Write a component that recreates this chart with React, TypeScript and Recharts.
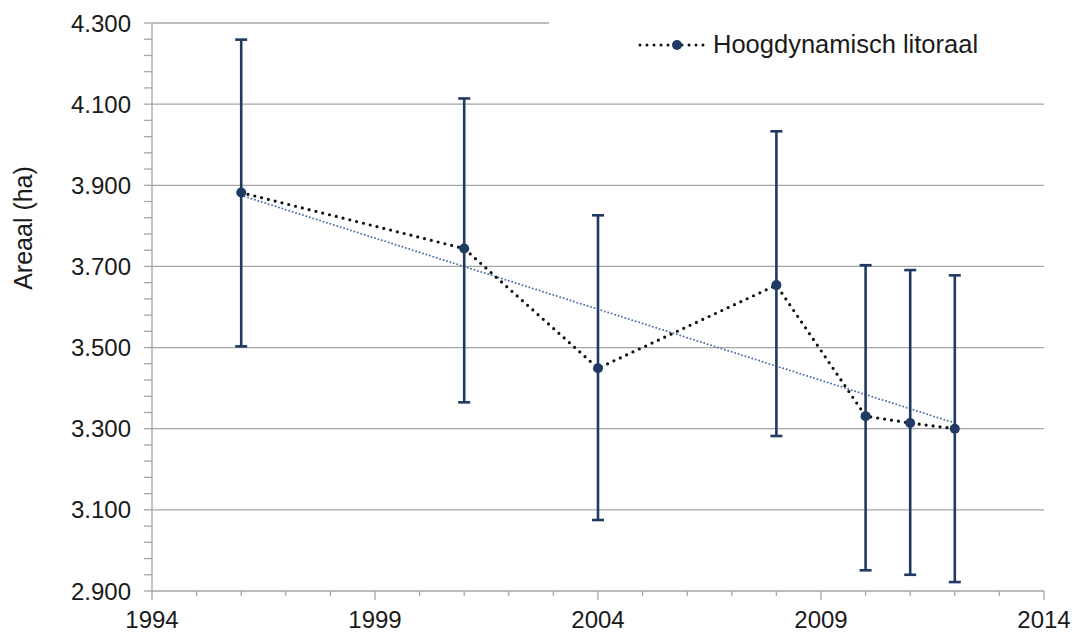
import React from 'react';
import { ComposedChart, Line, XAxis, YAxis, ErrorBar, ReferenceLine, Legend } from 'recharts';

// Data (area in hectares)
const years = [1996, 2001, 2004, 2008, 2010, 2011, 2012];
const areaal = [3882, 3744, 3449, 3654, 3331, 3314, 3300];
const upperBound = [4259, 4114, 3826, 4033, 3703, 3691, 3678];
const lowerBound = [3503, 3365, 3075, 3282, 2951, 2940, 2922];
// Linear trendline end points as seen in the picture
const trendYears = [1996, 2012];
const trendValues = [3875, 3314];

const xTicks = [1994, 1995, 1996, 1997, 1998, 1999, 2000, 2001, 2002, 2003, 2004, 2005, 2006, 2007, 2008, 2009, 2010, 2011, 2012, 2013, 2014];
const yMajorTicks = [2900, 3100, 3300, 3500, 3700, 3900, 4100, 4300];
const yTicks: number[] = [];
for (let v = 2900; v <= 4300; v += 40) yTicks.push(v);

const seriesName = 'Hoogdynamisch litoraal';

const data = years.map((y, i) => {
  const ti = trendYears.indexOf(y);
  return {
    year: y,
    area: areaal[i],
    err: [areaal[i] - lowerBound[i], upperBound[i] - areaal[i]],
    trend: ti >= 0 ? trendValues[ti] : null,
  };
});

const NAVY = '#203a63';
const GRID = '#a6a6a6';
const FONT = '"Liberation Sans", Arial, sans-serif';

const fmt = (v: number) => `${Math.floor(v / 1000)}.${String(v % 1000).padStart(3, '0')}`;

const XTick = (props: any) => {
  const { x, y, payload } = props;
  const major = (payload.value - 1994) % 5 === 0;
  return (
    <g>
      <line x1={x} y1={y} x2={x} y2={y + (major ? 9 : 5)} stroke={GRID} strokeWidth={1.3} />
      {major && (
        <text x={x} y={y + 37} textAnchor="middle" fontFamily={FONT} fontSize={24} fill="#1a1a1a">
          {payload.value}
        </text>
      )}
    </g>
  );
};

const YTick = (props: any) => {
  const { x, y, payload } = props;
  const major = yMajorTicks.includes(payload.value);
  return (
    <g>
      <line x1={x - 8} y1={y} x2={x} y2={y} stroke={GRID} strokeWidth={1.3} />
      {major && (
        <text x={x - 21} y={y} dy="0.36em" textAnchor="end" fontFamily={FONT} fontSize={24} fill="#1a1a1a">
          {fmt(payload.value)}
        </text>
      )}
    </g>
  );
};

const renderYLabel = () => (
  <text
    x={32}
    y={228}
    transform="rotate(-90 32 228)"
    textAnchor="middle"
    fontFamily={FONT}
    fontSize={25}
    fill="#1a1a1a"
  >
    Areaal (ha)
  </text>
);

const LegendContent = () => (
  <div style={{ position: 'relative', width: '100%', height: '100%', background: '#fff' }}>
    <svg width={70} height={20} style={{ position: 'absolute', left: 89, top: 20 }}>
      <line x1={2} y1={10} x2={66} y2={10} stroke="#111" strokeWidth={3} strokeDasharray="0 7" strokeLinecap="round" />
      <circle cx={39} cy={10} r={5} fill={NAVY} />
    </svg>
    <span
      style={{
        position: 'absolute',
        left: 164,
        top: 14,
        fontFamily: FONT,
        fontSize: 25.5,
        color: '#1a1a1a',
        whiteSpace: 'nowrap',
        lineHeight: '30px',
      }}
    >
      {seriesName}
    </span>
  </div>
);

export default function App() {
  return (
    <div style={{ position: 'absolute', left: 0, top: 0, width: 1079, height: 637, background: '#fff' }}>
      <ComposedChart width={1079} height={637} data={data} margin={{ top: 23, right: 35, bottom: 0, left: 0 }}>
        {yMajorTicks.slice(1).map((v) => (
          <ReferenceLine key={v} y={v} stroke={GRID} strokeWidth={1.3} ifOverflow="extendDomain" />
        ))}
        <XAxis
          dataKey="year"
          type="number"
          domain={[1994, 2014]}
          ticks={xTicks}
          interval={0}
          height={46}
          tickSize={0}
          tickMargin={0}
          tickLine={false}
          axisLine={{ stroke: GRID, strokeWidth: 1.3 }}
          tick={<XTick />}
          allowDataOverflow
        />
        <YAxis
          type="number"
          domain={[2900, 4300]}
          ticks={yTicks}
          interval={0}
          width={152}
          tickSize={0}
          tickMargin={0}
          tickLine={false}
          axisLine={{ stroke: GRID, strokeWidth: 1.3 }}
          tick={<YTick />}
          label={{ content: renderYLabel }}
          allowDataOverflow
        />
        <Legend
          layout="horizontal"
          verticalAlign="middle"
          align="center"
          content={<LegendContent />}
          wrapperStyle={{ left: 549, top: 15, width: 497, height: 62, backgroundColor: '#fff' }}
        />
        <Line
          dataKey="trend"
          stroke="#4f71a3"
          strokeWidth={2}
          strokeDasharray="0 3.6"
          strokeLinecap="round"
          dot={false}
          activeDot={false}
          connectNulls
          legendType="none"
          isAnimationActive={false}
        />
        <Line
          dataKey="area"
          name={seriesName}
          stroke="#111"
          strokeWidth={3.2}
          strokeDasharray="0 7"
          strokeLinecap="round"
          dot={{ r: 5, fill: NAVY, stroke: NAVY, strokeWidth: 0 }}
          activeDot={false}
          isAnimationActive={false}
        >
          <ErrorBar dataKey="err" direction="y" width={6} stroke={NAVY} strokeWidth={2.6} isAnimationActive={false} />
        </Line>
      </ComposedChart>
    </div>
  );
}
